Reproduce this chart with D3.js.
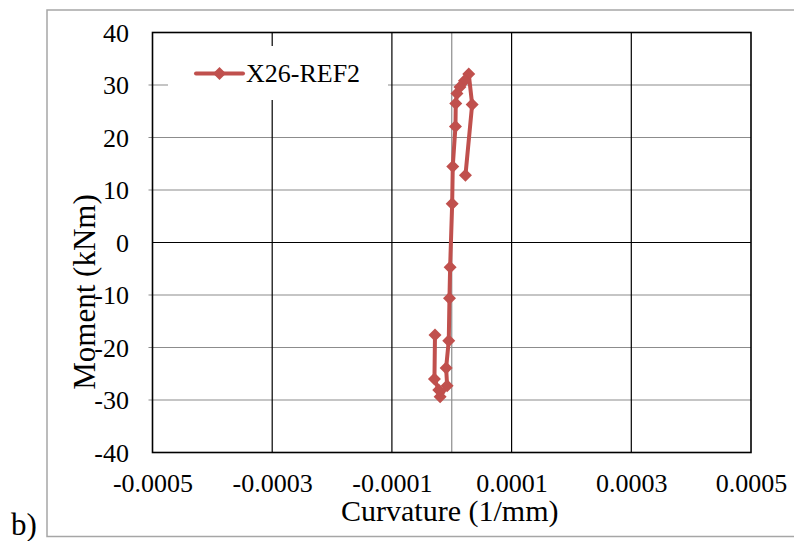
<!DOCTYPE html>
<html>
<head>
<meta charset="utf-8">
<script src="https://cdn.jsdelivr.net/npm/d3@7"></script>
<style>
  html, body { margin: 0; padding: 0; background: #fff; }
  svg { display: block; }
  text { font-family: "Liberation Serif", "Times New Roman", serif; fill: #000; }
</style>
</head>
<body>
<svg id="chart" width="794" height="541"></svg>
<script>
// Moment–curvature response, specimen X26-REF2 (points in test order)
const seriesName = "X26-REF2";
const curvature = [
  2.29e-5, 3.41e-5, 2.84e-5, 2.12e-5, 1.37e-5, 0.87e-5, 0.67e-5, 0.62e-5,
  0.17e-5, 0.07e-5, -0.27e-5, -0.38e-5, -0.50e-5, -0.94e-5, -0.77e-5,
  -1.94e-5, -2.17e-5, -2.89e-5, -2.80e-5
];
const moment = [
  12.8, 26.3, 32.1, 30.8, 29.6, 28.4, 26.5, 22.1,
  14.5, 7.4, -4.7, -10.6, -18.7, -23.9, -27.3,
  -29.4, -28.1, -26.0, -17.6
];
const xTickValues = [-0.0005, -0.0003, -0.0001, 0.0001, 0.0003, 0.0005];
const xTickLabels = ["-0.0005", "-0.0003", "-0.0001", "0.0001", "0.0003", "0.0005"];
const yTickValues = [-40, -30, -20, -10, 0, 10, 20, 30, 40];
const yTickLabels = ["-40", "-30", "-20", "-10", "0", "10", "20", "30", "40"];

const svg = d3.select("#chart");
const plot = { left: 152.5, right: 751, top: 32.5, bottom: 452.5 };
const red = "#C0504D";

const x = d3.scaleLinear().domain([-0.0005, 0.0005]).range([plot.left, plot.right]);
const y = d3.scaleLinear().domain([-40, 40]).range([plot.bottom, plot.top]);

// outer chart frame
svg.append("rect")
  .attr("x", 47).attr("y", 10).attr("width", 760).attr("height", 526.5)
  .attr("fill", "none").attr("stroke", "#a6a6a6").attr("stroke-width", 1.5);

// horizontal gridlines (grey)
svg.append("g").selectAll("line")
  .data(yTickValues.filter(v => v !== 0 && v !== 40 && v !== -40))
  .join("line")
  .attr("x1", plot.left - 4).attr("x2", plot.right)
  .attr("y1", d => y(d)).attr("y2", d => y(d))
  .attr("stroke", "#8c8c8c").attr("stroke-width", 1.2);

// vertical gridlines (black)
svg.append("g").selectAll("line")
  .data(xTickValues.filter(v => Math.abs(v) < 0.0005))
  .join("line")
  .attr("x1", d => x(d)).attr("x2", d => x(d))
  .attr("y1", plot.top).attr("y2", plot.bottom)
  .attr("stroke", "#000").attr("stroke-width", 1.2);

// vertical axis at zero curvature (grey), horizontal axis at zero moment (black)
svg.append("line")
  .attr("x1", x(0)).attr("x2", x(0)).attr("y1", plot.top).attr("y2", plot.bottom)
  .attr("stroke", "#8c8c8c").attr("stroke-width", 1.2);
svg.append("line")
  .attr("x1", plot.left).attr("x2", plot.right).attr("y1", y(0)).attr("y2", y(0))
  .attr("stroke", "#000").attr("stroke-width", 1.2);

// plot area border
svg.append("rect")
  .attr("x", plot.left).attr("y", plot.top)
  .attr("width", plot.right - plot.left).attr("height", plot.bottom - plot.top)
  .attr("fill", "none").attr("stroke", "#000").attr("stroke-width", 1.6);

// axis titles
svg.append("text")
  .attr("x", (plot.left + plot.right) / 2 - 2).attr("y", 521)
  .attr("text-anchor", "middle").attr("font-size", 30)
  .text("Curvature (1/mm)");
svg.append("text")
  .attr("transform", "translate(95,292) rotate(-90)")
  .attr("text-anchor", "middle").attr("font-size", 31)
  .text("Moment (kNm)");

// tick labels via d3 axes
const xAxis = d3.axisBottom(x)
  .tickValues(xTickValues)
  .tickFormat((d, i) => xTickLabels[i])
  .tickSize(0).tickPadding(0);
const gx = svg.append("g").attr("transform", `translate(0,${plot.bottom})`).call(xAxis);
gx.select(".domain").remove();
gx.selectAll("text")
  .attr("font-family", "Liberation Serif, Times New Roman, serif")
  .attr("font-size", 26).attr("fill", "#000")
  .attr("dy", null).attr("y", 39.5);

const yAxis = d3.axisLeft(y)
  .tickValues(yTickValues)
  .tickFormat((d, i) => yTickLabels[i])
  .tickSize(0).tickPadding(0);
const gy = svg.append("g").attr("transform", "translate(129,0)").call(yAxis);
gy.select(".domain").remove();
gy.selectAll("text")
  .attr("font-family", "Liberation Serif, Times New Roman, serif")
  .attr("font-size", 26).attr("fill", "#000")
  .attr("x", 0).attr("dy", "0.33em");

// panel tag
svg.append("text").attr("x", 11).attr("y", 535).attr("font-size", 31).text("b)");

// data series
const pts = curvature.map((c, i) => [c, moment[i]]);
const line = d3.line().x(d => x(d[0])).y(d => y(d[1]));
const diamond = "M0,-6.5L6.5,0L0,6.5L-6.5,0Z";

svg.append("path")
  .attr("d", line(pts))
  .attr("fill", "none").attr("stroke", red).attr("stroke-width", 4)
  .attr("stroke-linejoin", "round").attr("stroke-linecap", "round");
svg.append("g").selectAll("path")
  .data(pts).join("path")
  .attr("d", diamond)
  .attr("transform", d => `translate(${x(d[0])},${y(d[1])})`)
  .attr("fill", red);

// legend
const lg = svg.append("g");
lg.append("rect").attr("x", 168).attr("y", 46).attr("width", 220).attr("height", 54).attr("fill", "#fff");
lg.append("line").attr("x1", 196).attr("x2", 243).attr("y1", 73.5).attr("y2", 73.5)
  .attr("stroke", red).attr("stroke-width", 4).attr("stroke-linecap", "round");
lg.append("path").attr("d", diamond).attr("transform", "translate(219.5,73.5)").attr("fill", red);
lg.append("text").attr("x", 246).attr("y", 82).attr("font-size", 26).text(seriesName);
</script>
</body>
</html>
